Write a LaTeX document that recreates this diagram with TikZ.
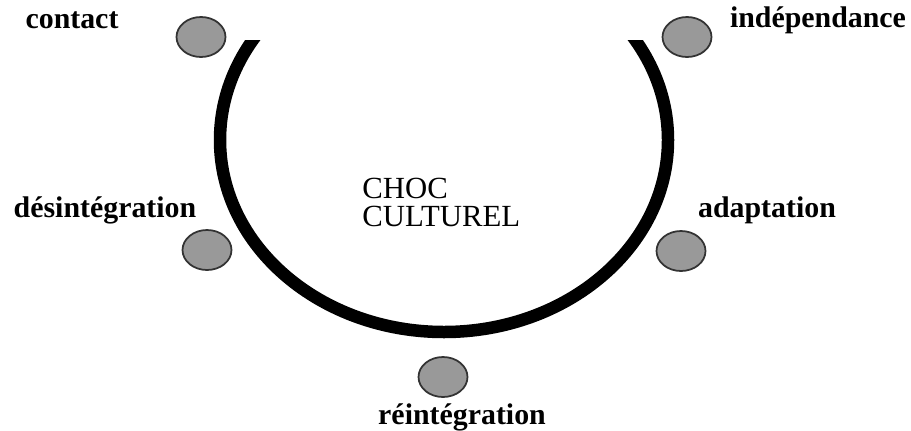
\documentclass[tikz,border=0pt]{standalone}
\usepackage{fontspec}
\setmainfont{Liberation Serif}
\usetikzlibrary{shapes.geometric}

\tikzset{CCstage/.style={ellipse,draw=black!80,fill=black!40,line width=1pt,minimum width=0.98cm,minimum height=0.8cm,inner sep=0pt},
         CClab/.style={font=\fontsize{17}{20}\selectfont\bfseries,anchor=base},
         CCarc/.style={line width=0.25cm}}

\begin{document}
\begin{tikzpicture}[x=0.02cm,y=-0.02cm]
    \useasboundingbox (0,0) rectangle (911,430);
    \begin{scope}
      \clip (0,40) rectangle (911,430);
      \draw[CCarc] (444,140) ellipse [x radius=224,y radius=192];
    \end{scope}
    \node[font=\fontsize{17.5}{15.9}\selectfont,align=left,anchor=base west,inner sep=0pt] (choc) at (362,226) {CHOC\\CULTUREL};
    \foreach \x/\y/\n/\lx/\ly/\l in {201/37/contact/72/28/contact,687/37/indep/818/27/indépendance,
        207/250/desint/105/217/désintégration,681/251/adapt/767/217/adaptation,443/377/reint/462/424/réintégration}
      {\node[CCstage] (\n) at (\x,\y) {}; \node[CClab] (\n-lab) at (\lx,\ly) {\l};}
  \end{tikzpicture}
\end{document}
